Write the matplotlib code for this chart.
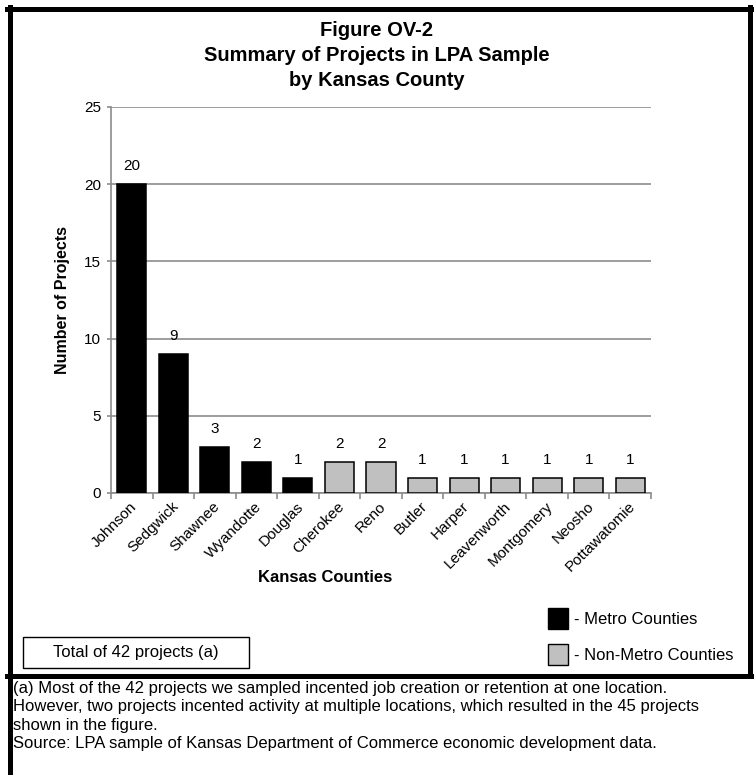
import matplotlib.pyplot as plt
from matplotlib.patches import Rectangle
from matplotlib.lines import Line2D
from matplotlib.transforms import ScaledTranslation

counties = ['Johnson', 'Sedgwick', 'Shawnee', 'Wyandotte', 'Douglas', 'Cherokee', 'Reno',
            'Butler', 'Harper', 'Leavenworth', 'Montgomery', 'Neosho', 'Pottawatomie']
projects = [20, 9, 3, 2, 1, 2, 2, 1, 1, 1, 1, 1, 1]
metro = [True, True, True, True, True, False, False, False, False, False, False, False, False]
yticks = [0, 5, 10, 15, 20, 25]

plt.rcParams['font.family'] = ['Liberation Sans', 'DejaVu Sans']

W, H = 754, 775
fig = plt.figure(figsize=(W / 100, H / 100), dpi=100)

def fx(px):
    return px / W

def fy(py):
    return 1 - py / H

ax = fig.add_axes([fx(111), fy(493), fx(651) - fx(111), fy(107) - fy(493)])
colors = ['black' if m else '#c0c0c0' for m in metro]
x = range(len(counties))
ax.bar(x, projects, width=0.7, color=colors, edgecolor='black', linewidth=1.1, zorder=3)
for i, v in enumerate(projects):
    ax.annotate(str(v), (i, v), xytext=(0, 13), textcoords='offset points',
                ha='center', va='center', fontsize=11)

ax.set_xlim(-0.5, len(counties) - 0.5)
ax.set_ylim(0, 25)
ax.set_yticks(yticks)
ax.tick_params(axis='y', labelsize=11, length=3, color='#8c8c8c', width=1.2, pad=4)
ax.set_xticks([i - 0.5 for i in range(len(counties) + 1)])
ax.set_xticklabels([])
ax.tick_params(axis='x', which='major', length=4, color='#8c8c8c', width=1.2, direction='out')
ax.set_xticks(list(x), minor=True)
ax.set_xticklabels(counties, minor=True, rotation=45, ha='right', va='center',
                   rotation_mode='anchor', fontsize=11)
ax.tick_params(axis='x', which='minor', length=0, pad=8)
shift = ScaledTranslation(3 / 100, 0, fig.dpi_scale_trans)
for lab in ax.get_xticklabels(minor=True):
    lab.set_transform(lab.get_transform() + shift)
ax.yaxis.grid(True, color='#8c8c8c', linewidth=1.2)
ax.set_axisbelow(True)
for s in ['top', 'right']:
    ax.spines[s].set_visible(False)
for s in ['left', 'bottom']:
    ax.spines[s].set_color('#8c8c8c')
    ax.spines[s].set_linewidth(1.2)

ax.set_ylabel('Number of Projects', fontsize=11.5, fontweight='bold')
ax.yaxis.set_label_coords((70 - 111) / (651 - 111), 0.5)

fig.text(fx(325), fy(578), 'Kansas Counties', ha='center', va='center', fontsize=12, fontweight='bold')

title_lines = ['Figure OV-2', 'Summary of Projects in LPA Sample', 'by Kansas County']
for i, t in enumerate(title_lines):
    fig.text(fx(377), fy(31 + i * 24.5), t, ha='center', va='center', fontsize=14.5, fontweight='bold')

# legend squares
fig.add_artist(Rectangle((fx(548), fy(629)), fx(20), fy(608) - fy(629), facecolor='black',
                         edgecolor='black', lw=1, transform=fig.transFigure))
fig.add_artist(Rectangle((fx(548), fy(665)), fx(20), fy(644) - fy(665), facecolor='#c0c0c0',
                         edgecolor='black', lw=1, transform=fig.transFigure))
fig.text(fx(574), fy(619), '- Metro Counties', ha='left', va='center', fontsize=12)
fig.text(fx(574), fy(655), '- Non-Metro Counties', ha='left', va='center', fontsize=12)

# total box
fig.add_artist(Rectangle((fx(23), fy(668)), fx(249) - fx(23), fy(637) - fy(668), facecolor='white',
                         edgecolor='black', lw=1, transform=fig.transFigure))
fig.text(fx(136), fy(652.5), 'Total of 42 projects (a)', ha='center', va='center', fontsize=12)

# outer frame
lw = 3.6
fig.add_artist(Line2D([fx(7), fx(752)], [fy(8.5), fy(8.5)], color='black', lw=lw, transform=fig.transFigure))
fig.add_artist(Line2D([fx(7), fx(752)], [fy(676), fy(676)], color='black', lw=lw, transform=fig.transFigure))
fig.add_artist(Line2D([fx(750), fx(750)], [fy(7), fy(676)], color='black', lw=lw, transform=fig.transFigure))
fig.add_artist(Line2D([fx(9.5), fx(9.5)], [fy(7), fy(775)], color='black', lw=lw, transform=fig.transFigure))

notes = ['(a) Most of the 42 projects we sampled incented job creation or retention at one location.',
         'However, two projects incented activity at multiple locations, which resulted in the 45 projects',
         'shown in the figure.',
         'Source: LPA sample of Kansas Department of Commerce economic development data.']
for i, line in enumerate(notes):
    fig.text(fx(13), fy(688 + i * 18.6), line, ha='left', va='center', fontsize=12)

fig.savefig('out.png', dpi=100)
